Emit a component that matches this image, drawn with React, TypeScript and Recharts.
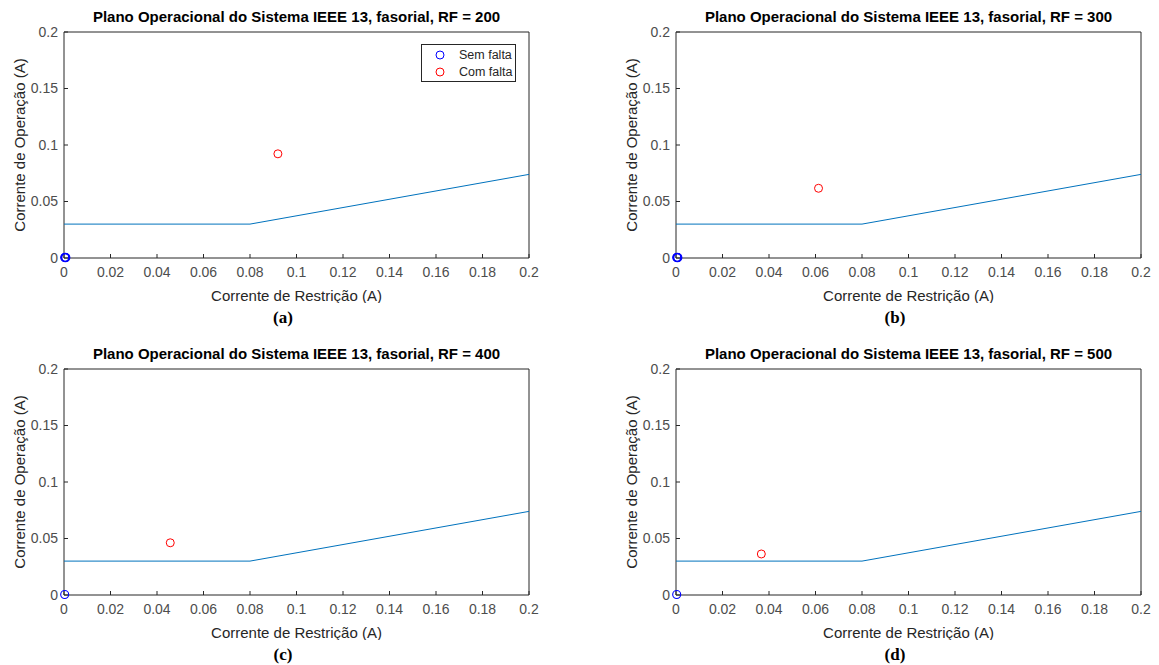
import { ScatterChart, Scatter, XAxis, YAxis } from 'recharts';

const xTicks = [0, 0.02, 0.04, 0.06, 0.08, 0.1, 0.12, 0.14, 0.16, 0.18, 0.2];
const yTicks = [0, 0.05, 0.1, 0.15, 0.2];

// characteristic curve of the relay
const boundaryX = [0, 0.08, 0.2];
const boundaryY = [0.03, 0.03, 0.074];

const rfValues = [200, 300, 400, 500];
const panelLabels = ['(a)', '(b)', '(c)', '(d)'];

// no-fault points cluster at the origin
const semFaltaX = [
  [0.0003, 0.0006, 0.0005, 0.0008],
  [0.0003, 0.0006, 0.0005, 0.0008],
  [0.0003],
  [0.0003],
];
const semFaltaY = [
  [0.0004, 0.0003, 0.0007, 0.0005],
  [0.0004, 0.0003, 0.0007, 0.0005],
  [0.0004],
  [0.0004],
];

const comFaltaX = [0.092, 0.0613, 0.0457, 0.0367];
const comFaltaY = [0.0922, 0.0617, 0.0462, 0.0363];

const AXIS = '#262626';
const TICK = '#4d4d4d';
const LINE = '#0072BD';

const PLOT_W = 465;
const PLOT_H = 226;

const positions = [
  { left: 0, top: 0 },
  { left: 612, top: 0 },
  { left: 0, top: 337 },
  { left: 612, top: 337 },
];

const boundary = boundaryX.map((x, i) => ({ x, y: boundaryY[i] }));

function ring(color: string, width: number) {
  return (p: any) => (
    <circle cx={p.cx} cy={p.cy} r={4} fill="none" stroke={color} strokeWidth={width} />
  );
}

function Panel({ idx }: { idx: number }) {
  const { left, top } = positions[idx];
  const sem = semFaltaX[idx].map((x, i) => ({ x, y: semFaltaY[idx][i] }));
  const com = [{ x: comFaltaX[idx], y: comFaltaY[idx] }];

  return (
    <div style={{ position: 'absolute', left, top }}>
      <div
        style={{
          position: 'absolute', left: 44, top: 8, width: PLOT_W + 40, textAlign: 'center',
          fontWeight: 'bold', fontSize: 15, color: '#000', whiteSpace: 'nowrap',
        }}
      >
        Plano Operacional do Sistema IEEE 13, fasorial, RF = {rfValues[idx]}
      </div>

      <ScatterChart
        width={64 + PLOT_W + 1 + 16}
        height={32 + PLOT_H + 45}
        margin={{ top: 31, right: 16, bottom: 0, left: 0 }}
      >
        <XAxis
          xAxisId="b"
          dataKey="x"
          type="number"
          orientation="bottom"
          domain={[0, 0.2]}
          ticks={xTicks}
          interval={0}
          height={45}
          tickSize={-4}
          tickMargin={13}
          stroke={AXIS}
          tick={{ fontSize: 14, fill: TICK }}
          label={{ value: 'Corrente de Restrição (A)', position: 'insideBottom', offset: 2, style: { fontSize: 15, fill: AXIS } }}
        />
        <XAxis
          xAxisId="t"
          type="number"
          orientation="top"
          domain={[0, 0.2]}
          ticks={xTicks}
          interval={0}
          height={1}
          tickSize={-4}
          tick={false}
          stroke={AXIS}
        />
        <YAxis
          yAxisId="l"
          dataKey="y"
          type="number"
          domain={[0, 0.2]}
          ticks={yTicks}
          interval={0}
          width={64}
          tickSize={-4}
          tickMargin={10}
          stroke={AXIS}
          tick={{ fontSize: 14, fill: TICK }}
          label={{ value: 'Corrente de Operação (A)', angle: -90, position: 'insideLeft', offset: 20, style: { fontSize: 15, fill: AXIS, textAnchor: 'middle' } }}
        />
        <YAxis
          yAxisId="r"
          type="number"
          orientation="right"
          domain={[0, 0.2]}
          ticks={yTicks}
          interval={0}
          width={1}
          tickSize={-4}
          tick={false}
          stroke={AXIS}
        />
        <Scatter
          xAxisId="b" yAxisId="l"
          data={boundary}
          line={{ stroke: LINE, strokeWidth: 1 }}
          shape={() => <g />}
          isAnimationActive={false}
        />
        <Scatter xAxisId="b" yAxisId="l" data={sem} shape={ring('#0000ff', 1.1)} isAnimationActive={false} />
        <Scatter xAxisId="b" yAxisId="l" data={com} shape={ring('#ff0000', 1)} isAnimationActive={false} />
      </ScatterChart>

      {idx === 0 && (
        <div
          style={{
            position: 'absolute', left: 421, top: 44, width: 93, height: 36,
            border: `1px solid ${AXIS}`, background: '#fff', fontSize: 12.5, color: AXIS,
          }}
        >
          {[['#0000ff', 'Sem falta'], ['#ff0000', 'Com falta']].map(([c, t], i) => (
            <div key={t} style={{ position: 'absolute', left: 13, top: 3 + i * 17, height: 14, display: 'flex', alignItems: 'center' }}>
              <svg width={10} height={10} style={{ marginRight: 14 }}>
                <circle cx={5} cy={5} r={4} fill="none" stroke={c} strokeWidth={1} />
              </svg>
              <span>{t}</span>
            </div>
          ))}
        </div>
      )}

      <div
        style={{
          position: 'absolute', left: 253, top: 308, width: 60, textAlign: 'center',
          fontFamily: '"Liberation Serif", "Times New Roman", serif', fontWeight: 'bold', fontSize: 17, color: '#000',
        }}
      >
        {panelLabels[idx]}
      </div>
    </div>
  );
}

export default function App() {
  return (
    <div
      style={{
        position: 'absolute', left: 0, top: 0, width: 1159, height: 665, overflow: 'hidden',
        background: '#fff', fontFamily: '"Liberation Sans", Arial, Helvetica, sans-serif',
      }}
    >
      {positions.map((_, i) => (
        <Panel key={i} idx={i} />
      ))}
    </div>
  );
}
